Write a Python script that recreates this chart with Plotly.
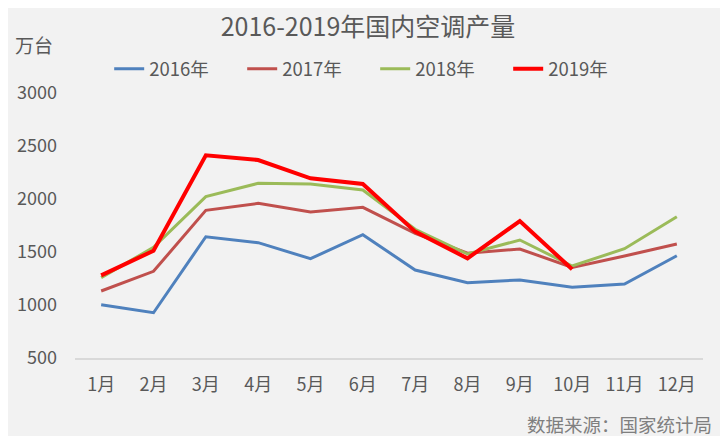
import plotly.graph_objects as go

months = ["1月", "2月", "3月", "4月", "5月", "6月", "7月", "8月", "9月", "10月", "11月", "12月"]
y2016 = [1003, 927, 1644, 1588, 1437, 1663, 1330, 1211, 1236, 1167, 1198, 1465]
y2017 = [1132, 1318, 1893, 1959, 1877, 1921, 1676, 1488, 1528, 1355, 1462, 1575]
y2018 = [1258, 1544, 2022, 2148, 2142, 2085, 1714, 1481, 1613, 1368, 1531, 1833]
y2019 = [1280, 1512, 2412, 2368, 2195, 2142, 1692, 1440, 1792, 1337]

series = [
    ("2016年", y2016, "#4f81bd", 3),
    ("2017年", y2017, "#c0504d", 3),
    ("2018年", y2018, "#9bbb59", 3),
    ("2019年", y2019, "#ff0000", 4),
]

font = "Noto Sans CJK SC"
fig = go.Figure()
for name, vals, color, w in series:
    fig.add_trace(go.Scatter(x=months[:len(vals)], y=vals, name=name, mode="lines",
                             line=dict(color=color, width=w)))

fig.update_layout(
    width=720, height=428,
    paper_bgcolor="#f2f2f2", plot_bgcolor="#f2f2f2",
    margin=dict(l=67, r=25, t=85, b=78, autoexpand=False),
    font=dict(family=font, color="#595959", size=18),
    title=dict(text="2016-2019年国内空调产量", x=0.5, xanchor="center", y=0.956, yanchor="middle",
               font=dict(size=25, color="#595959", family=font)),
    legend=dict(orientation="h", x=0.478, xanchor="center", y=1.09, yanchor="middle",
                font=dict(size=18.5, color="#595959"), bgcolor="rgba(0,0,0,0)",
                entrywidth=88, entrywidthmode="pixels"),
    xaxis=dict(type="category", range=[-0.5, 11.5], showgrid=False, showline=True,
               linecolor="#d9d9d9", linewidth=1.5, ticks="", ticklabelstandoff=10,
               tickfont=dict(size=18, color="#595959"), zeroline=False),
    yaxis=dict(range=[500, 3000], dtick=500, showgrid=False, showline=False, zeroline=False,
               ticks="", tickfont=dict(size=18, color="#595959"), ticklabelstandoff=17),
    annotations=[
        dict(text="万台", xref="paper", yref="paper", x=-0.099, y=1.183, xanchor="left", yanchor="middle",
             showarrow=False, font=dict(size=19, color="#595959")),
        dict(text="数据来源：国家统计局", xref="paper", yref="paper", x=1.018, y=-0.25,
             xanchor="right", yanchor="middle", showarrow=False, font=dict(size=18.5, color="#7f7f7f")),
    ],
)

fig.write_html("out.html")
